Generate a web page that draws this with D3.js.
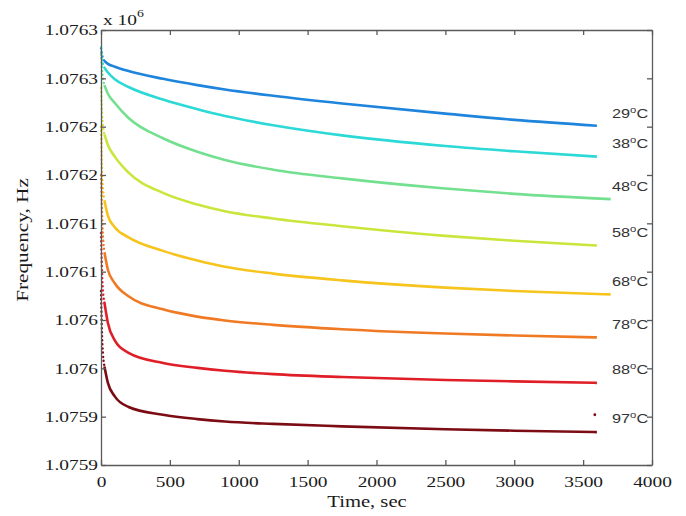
<!DOCTYPE html>
<html><head><meta charset="utf-8">
<script src="https://cdn.jsdelivr.net/npm/d3@7"></script>
<style>body{margin:0;background:#fff}svg{display:block}</style>
</head><body><svg id="c" width="686" height="516"></svg>
<script>
// ---- data ----
const times     = [0,10,25,50,100,200,450,700,900,1250,1750,2500,3000,3600];
const timesLong = [0,10,25,50,100,200,450,700,900,1250,1750,2500,3000,3700];
const temps = ["29","38","48","58","68","78","88","97"];
const f29 = [1076331,1076323,1076318,1076315,1076312,1076307.5,1076299.5,1076293,1076288.5,1076282,1076274,1076263.5,1076257,1076251];
const f38 = [1076332,1076318,1076311,1076306,1076299,1076291,1076278,1076268,1076261,1076251.5,1076241,1076230,1076224.5,1076219];
const f48 = [1076325,1076305,1076293,1076284,1076274.5,1076259,1076238,1076224,1076215.5,1076205.5,1076196.5,1076186,1076180.5,1076175];
const f58 = [1076290,1076258,1076242,1076231,1076219,1076202.5,1076181.5,1076169.5,1076162.5,1076155,1076147,1076137,1076132,1076127];
const f68 = [1076250,1076195,1076174,1076158,1076146,1076135.5,1076121.5,1076111.5,1076105,1076098,1076091,1076083.5,1076080,1076076.5];
const f78 = [1076200,1076150,1076120,1076102,1076088,1076074.5,1076061,1076053.5,1076049.5,1076045,1076040.5,1076036,1076034,1076032];
const f88 = [1076140,1076090,1076068,1076047,1076029,1076016,1076005.5,1076000.5,1075997.5,1075994,1075991,1075988,1075986.5,1075985];
const f97 = [1076080,1076025,1076002,1075985,1075971,1075960,1075952,1075947.5,1075945,1075942.5,1075940,1075937,1075935.5,1075934];
const strayPoint97 = [3585, 1075952];
const labelTime = 3710;
const labelFreq = [1076264,1076233,1076189,1076141,1076090,1076046,1075999,1075949];
const xTicks = [0,500,1000,1500,2000,2500,3000,3500,4000];
const yTicks = [1075900,1075950,1076000,1076050,1076100,1076150,1076200,1076250,1076300,1076350];
const yTickLabels = ["1.0759","1.0759","1.076","1.076","1.0761","1.0761","1.0762","1.0762","1.0763","1.0763"];
const colors = ["#1f84dc","#2cd9d6","#72e08e","#c9e63c","#f6c41c","#f07a24","#e01e28","#7c0c14"];

const seriesList = [
  {t:times,f:f29},{t:times,f:f38},{t:timesLong,f:f48},{t:times,f:f58},
  {t:timesLong,f:f68},{t:times,f:f78},{t:times,f:f88},{t:times,f:f97}
];

// ---- layout ----
const L=101, R=652, T=30, B=465, SX=1.25;
const svg = d3.select("#c");
const x = d3.scaleLinear().domain([0,4000]).range([L,R]);
const y = d3.scaleLinear().domain([1075900,1076350]).range([B,T]);
const axisColor = "#5a5a5a";
const serif = "'Liberation Serif','Times New Roman',serif";
const sans = "'Liberation Sans',Arial,Helvetica,sans-serif";

function stretchTexts(sel){
  sel.each(function(){
    const t=d3.select(this); const xx=+t.attr("x")||0;
    t.attr("x", xx/SX).attr("transform",`scale(${SX},1)`);
  });
}

// curves
const line = d3.line().x(d=>x(d[0])).y(d=>y(d[1])).curve(d3.curveMonotoneX);
const g = svg.append("g");
seriesList.forEach((s,i)=>{
  const pts = s.t.map((t,j)=>[t,s.f[j]]);
  const early = pts.filter(p=>p[0]<=25);
  const late = pts.filter(p=>p[0]>=25);
  g.append("path").attr("d",line(early)).attr("fill","none")
    .attr("stroke",colors[i]).attr("stroke-width",2.4)
    .attr("stroke-linecap","round").attr("stroke-dasharray","0.1 4");
  g.append("path").attr("d",line(late)).attr("fill","none")
    .attr("stroke",colors[i]).attr("stroke-width",2.6).attr("stroke-linejoin","round");
});
g.append("circle").attr("cx",x(strayPoint97[0])).attr("cy",y(strayPoint97[1]))
  .attr("r",1.4).attr("fill",colors[7]);

// axes
function styleAxis(a){
  a.selectAll("path,line").attr("stroke",axisColor).attr("stroke-width",1.3);
  a.selectAll("text").attr("fill","#1a1a1a").style("font-family",serif).style("font-size","15.5px");
}
const ax = svg.append("g").attr("transform",`translate(0,${B})`)
  .call(d3.axisBottom(x).tickValues(xTicks).tickSizeInner(-5).tickSizeOuter(0).tickPadding(11).tickFormat(d3.format("d")));
styleAxis(ax); stretchTexts(ax.selectAll("text"));
const axT = svg.append("g").attr("transform",`translate(0,${T})`)
  .call(d3.axisTop(x).tickValues(xTicks).tickSizeInner(-5).tickSizeOuter(0).tickFormat(""));
styleAxis(axT);
const ay = svg.append("g").attr("transform",`translate(${L},0)`)
  .call(d3.axisLeft(y).tickValues(yTicks).tickSizeInner(-5).tickSizeOuter(0).tickPadding(3)
    .tickFormat((d,i)=>yTickLabels[i]));
styleAxis(ay); stretchTexts(ay.selectAll("text"));
const ayR = svg.append("g").attr("transform",`translate(${R},0)`)
  .call(d3.axisRight(y).tickValues(yTicks).tickSizeInner(-5).tickSizeOuter(0).tickFormat(""));
styleAxis(ayR);

// exponent
const ex = svg.append("text").attr("transform",`translate(103,25) scale(${SX},1)`)
  .style("font-family",serif).style("font-size","15.5px").attr("fill","#1a1a1a");
ex.append("tspan").text("x 10");
ex.append("tspan").attr("dy",-8).style("font-size","11px").text("6");

// axis titles
svg.append("text").attr("transform",`translate(367,507) scale(${SX},1)`).attr("text-anchor","middle")
  .style("font-family",serif).style("font-size","16.5px").attr("fill","#1a1a1a").text("Time, sec");
svg.append("text").attr("transform",`translate(28,240) rotate(-90) scale(${SX},1)`).attr("text-anchor","middle")
  .style("font-family",serif).style("font-size","17px").attr("fill","#1a1a1a").text("Frequency, Hz");

// temperature labels
temps.forEach((tp,i)=>{
  const t = svg.append("text").attr("transform",`translate(${x(labelTime)},${y(labelFreq[i])+5}) scale(${SX},1)`)
    .style("font-family",sans).style("font-size","13px").attr("fill","#333");
  t.append("tspan").text(tp);
  t.append("tspan").attr("dy",-5).style("font-size","9px").text("o");
  t.append("tspan").attr("dy",5).text("C");
});
</script></body></html>
